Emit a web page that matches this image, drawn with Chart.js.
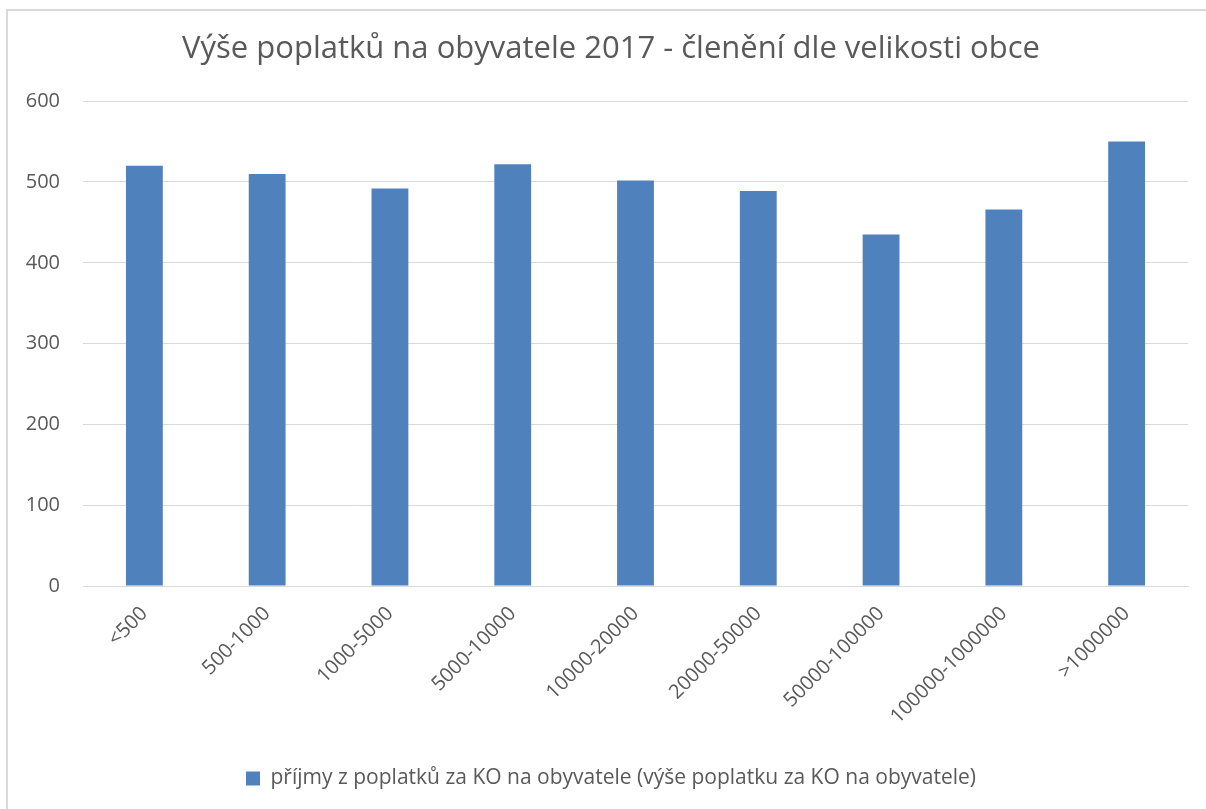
<!DOCTYPE html>
<html><head><meta charset="utf-8">
<script src="https://cdn.jsdelivr.net/npm/chart.js@4/dist/chart.umd.min.js"></script>
<style>
html,body{margin:0;padding:0;width:1206px;height:809px;overflow:hidden;background:#fff}
#frame{position:absolute;left:6px;top:9px;width:1220px;height:820px;border:2px solid #D9D9D9;box-sizing:border-box}
#wrap{position:absolute;left:0;top:0;width:1206px;height:809px}
</style></head><body>
<div id="frame"></div>
<div id="wrap"><canvas id="c" width="1206" height="809"></canvas></div>
<script>
const categories = ["<500","500-1000","1000-5000","5000-10000","10000-20000","20000-50000","50000-100000","100000-1000000",">1000000"];
const values = [520, 510, 492, 522, 502, 489, 435, 466, 550];
const seriesLabel = "příjmy z poplatků za KO na obyvatele (výše poplatku za KO na obyvatele)";
const titleText = "Výše poplatků na obyvatele 2017 - členění dle velikosti obce";
const yMin = 0, yMax = 600, yStep = 100;

const FONT = "'Open Sans', sans-serif";
const TXT = "#595959";

// let y tick labels extend left of the (narrow) y-axis box without being clipped
const unclipY = {
  id: 'unclipY',
  afterLayout(chart) { chart.scales.y.left = 0; }
};

new Chart(document.getElementById('c'), {
  type: 'bar',
  data: {
    labels: categories,
    datasets: [{
      label: seriesLabel,
      data: values,
      backgroundColor: '#4F81BD',
      borderWidth: 0,
      categoryPercentage: 1.0,
      barPercentage: 0.3
    }]
  },
  plugins: [unclipY],
  options: {
    responsive: false,
    animation: false,
    layout: { padding: { left: 34, right: 18, top: 10, bottom: 10 } },
    plugins: {
      tooltip: { enabled: false },
      title: {
        display: true,
        text: titleText,
        color: TXT,
        font: { family: FONT, size: 31, weight: 'normal', lineHeight: 1.2 },
        padding: { top: 21, bottom: 33 }
      },
      legend: {
        display: true,
        position: 'bottom',
        labels: {
          color: TXT,
          font: { family: FONT, size: 21 },
          boxWidth: 14,
          boxHeight: 14,
          padding: 10
        }
      }
    },
    scales: {
      x: {
        grid: { display: false, drawTicks: false },
        border: { display: true, color: '#D9D9D9', width: 1 },
        ticks: {
          color: TXT,
          font: { family: FONT, size: 20 },
          minRotation: 45, maxRotation: 45,
          padding: 16,
          autoSkip: false
        },
        afterFit: s => { s.height = 172; }
      },
      y: {
        min: yMin, max: yMax,
        grid: { color: '#D9D9D9', lineWidth: 1, drawTicks: false },
        border: { display: false },
        ticks: {
          stepSize: yStep,
          color: TXT,
          font: { family: FONT, size: 20 },
          padding: 23
        },
        afterFit: s => { s.width = 49; }
      }
    }
  }
});
</script>
</body></html>
